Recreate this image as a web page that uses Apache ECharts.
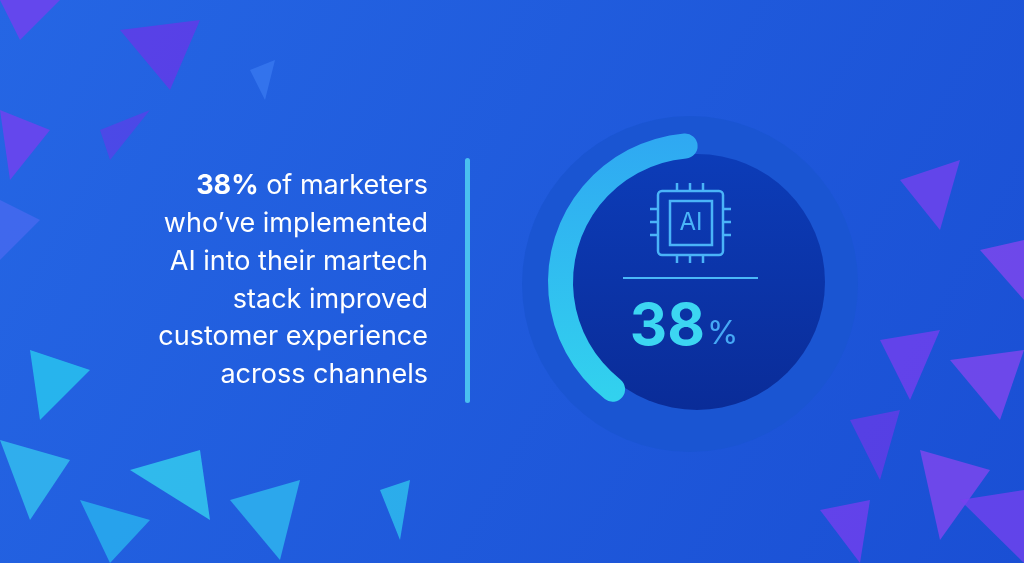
<!DOCTYPE html><html><head><meta charset="utf-8"><script src="https://cdn.jsdelivr.net/npm/echarts@6/dist/echarts.min.js"></script>
<style>html,body{margin:0;padding:0}#c{width:1024px;height:563px}</style></head><body><div id="c"></div><script>
const percentValue = [38];
const percentMax = 100;
const textLines = ["{b|38%} of marketers","who’ve implemented","AI into their martech","stack improved","customer experience","across channels"];
const chart = echarts.init(document.getElementById('c'));
const shards = [
 [[0,0],[60,0],[20,40]],[[120,30],[200,20],[170,90]],[[0,110],[50,130],[10,180]],[[250,70],[275,60],[265,100]],
 [[30,350],[90,370],[40,420]],[[0,440],[70,460],[30,520]],[[130,470],[200,450],[210,520]],[[230,500],[300,480],[280,560]],
 [[80,500],[150,520],[110,563]],[[380,490],[410,480],[400,540]],[[900,180],[960,160],[940,230]],[[980,250],[1024,240],[1024,300]],
 [[880,340],[940,330],[910,400]],[[950,360],[1024,350],[1000,420]],[[850,420],[900,410],[880,480]],[[920,450],[990,470],[940,540]],
 [[960,500],[1024,490],[1024,563]],[[820,510],[870,500],[860,563]],[[100,130],[150,110],[110,160]],[[0,200],[40,220],[0,260]]
];
const shardColors=['#7a3df0','#6a35e8','#7a3df0','#3a7af0','#2ad0f0','#35c8f0','#35d8f0','#30c0f0','#2ab8f0','#30c8f0','#7a40f0','#8a45f0','#7a3df0','#8a45f0','#6a3ae8','#8a45f0','#7a40f0','#7a3df0','#5a40e8','#4a6af0'];
const g = [];
shards.forEach((p,i)=>g.push({type:'polygon',shape:{points:p},style:{fill:shardColors[i],opacity:0.75},z:0}));
g.push({type:'circle',shape:{cx:690,cy:284,r:168},style:{fill:'#1a55d2'},z:1});
g.push({type:'circle',shape:{cx:697,cy:282,r:128},style:{fill:new echarts.graphic.LinearGradient(0,0,0,1,[{offset:0,color:'#0c3cb8'},{offset:1,color:'#0a2c98'}])},z:2});
g.push({type:'rect',shape:{x:465,y:158,width:5,height:245,r:2.5},style:{fill:'#4ac0f0'},z:3});
textLines.forEach((t,i)=>g.push({type:'text',x:428,y:186+i*37.8,style:{text:t,fill:'#ffffff',font:'400 27px Inter',align:'right',verticalAlign:'middle',rich:{b:{fill:'#fff',fontWeight:'bold',fontSize:27,fontFamily:'Inter'}}},z:3}));
const ic='#4ab4f8';
g.push({type:'rect',shape:{x:658,y:191,width:65,height:64,r:4},style:{fill:'none',stroke:ic,lineWidth:2.5},z:3});
g.push({type:'rect',shape:{x:670,y:201,width:42,height:44},style:{fill:'none',stroke:ic,lineWidth:2.5},z:3});
[677,690,703].forEach(x=>{g.push({type:'line',shape:{x1:x,y1:183,x2:x,y2:191},style:{stroke:ic,lineWidth:2.5},z:3});g.push({type:'line',shape:{x1:x,y1:255,x2:x,y2:263},style:{stroke:ic,lineWidth:2.5},z:3});});
[209,222,235].forEach(y=>{g.push({type:'line',shape:{x1:650,y1:y,x2:658,y2:y},style:{stroke:ic,lineWidth:2.5},z:3});g.push({type:'line',shape:{x1:723,y1:y,x2:731,y2:y},style:{stroke:ic,lineWidth:2.5},z:3});});
g.push({type:'text',x:691,y:223,style:{text:'AI',fill:ic,font:'400 24px Inter',align:'center',verticalAlign:'middle'},z:3});
g.push({type:'line',shape:{x1:623,y1:278,x2:758,y2:278},style:{stroke:'#4ab8f8',lineWidth:2},z:3});
g.push({type:'text',x:684,y:328,style:{text:'{n|'+percentValue[0]+'}{p|%}',align:'center',verticalAlign:'middle',rich:{n:{fontSize:58,fontWeight:'bold',fontFamily:'Inter',fill:'#3cd6f2'},p:{fontSize:32,fontFamily:'Inter',fill:'#45a8f5',padding:[12,0,0,2]}}},z:3});
chart.setOption({
 backgroundColor:new echarts.graphic.LinearGradient(0,0,1,1,[{offset:0,color:'#2566e4'},{offset:1,color:'#1a4fd4'}]),
 graphic:g,
 polar:{center:[697,282],radius:[124,149]},
 angleAxis:{max:percentMax,startAngle:95,clockwise:false,show:false},
 radiusAxis:{type:'category',data:['v'],show:false},
 series:[{type:'bar',coordinateSystem:'polar',data:percentValue,roundCap:true,barWidth:25,z:5,
  itemStyle:{color:new echarts.graphic.LinearGradient(0,0,0,1,[{offset:0,color:'#2fa8f2'},{offset:1,color:'#32d2ee'}])}}]
});
</script></body></html>
